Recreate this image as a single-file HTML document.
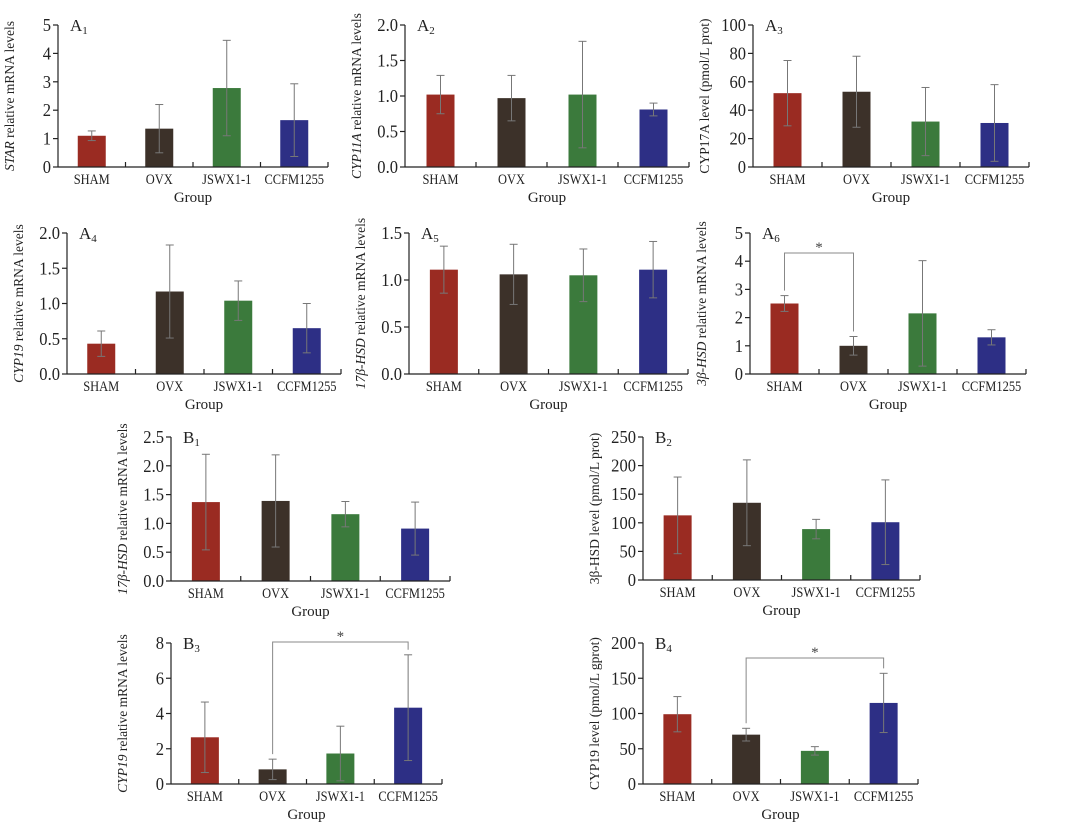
<!DOCTYPE html>
<html><head><meta charset="utf-8"><style>
html,body{margin:0;padding:0;background:#fff;}
svg{display:block;font-family:"Liberation Serif",serif;}
</style></head><body>
<svg id="fig" width="1080" height="828" viewBox="0 0 1080 828" xmlns="http://www.w3.org/2000/svg"></svg>
<script>
const categories = ["SHAM","OVX","JSWX1-1","CCFM1255"];
const colors = ["#9a2b22","#3c3129","#3b7a3c","#2d2f85"];
const a1Values = [1.1,1.35,2.78,1.65];   const a1Err = [0.17,0.85,1.68,1.28];
const a2Values = [1.02,0.97,1.02,0.81];  const a2Err = [0.27,0.32,0.75,0.09];
const a3Values = [52,53,32,31];          const a3Err = [23,25,24,27];
const a4Values = [0.43,1.17,1.04,0.65];  const a4Err = [0.18,0.66,0.28,0.35];
const a5Values = [1.11,1.06,1.05,1.11];  const a5Err = [0.25,0.32,0.28,0.30];
const a6Values = [2.5,1.0,2.15,1.3];     const a6Err = [0.28,0.33,1.87,0.27];
const b1Values = [1.37,1.39,1.16,0.91];  const b1Err = [0.83,0.8,0.22,0.46];
const b2Values = [113,135,89,101];       const b2Err = [67,75,17,74];
const b3Values = [2.65,0.83,1.73,4.33];  const b3Err = [2.0,0.58,1.55,3.0];
const b4Values = [99,70,47,115];         const b4Err = [25,9,6,42];
const a1Ticks=[0,1,2,3,4,5], a2Ticks=[0,0.5,1,1.5,2], a3Ticks=[0,20,40,60,80,100];
const a4Ticks=[0,0.5,1,1.5,2], a5Ticks=[0,0.5,1,1.5], a6Ticks=[0,1,2,3,4,5];
const b1Ticks=[0,0.5,1,1.5,2,2.5], b2Ticks=[0,50,100,150,200,250], b3Ticks=[0,2,4,6,8], b4Ticks=[0,50,100,150,200];

const NS="http://www.w3.org/2000/svg";
const svg=document.getElementById('fig');
function mk(tag,attrs,parent){const e=document.createElementNS(NS,tag);for(const k in attrs)e.setAttribute(k,attrs[k]);(parent||svg).appendChild(e);return e;}

const panels=[
 {id:"a1",lab:"A",sub:"1",L:58,R:328,T:25,B:167,vals:a1Values,err:a1Err,ticks:a1Ticks,dec:0,yl:[["STAR",1],[" relative mRNA levels",0]]},
 {id:"a2",lab:"A",sub:"2",L:405,R:689,T:25,B:167,vals:a2Values,err:a2Err,ticks:a2Ticks,dec:1,yl:[["CYP11A",1],[" relative mRNA levels",0]]},
 {id:"a3",lab:"A",sub:"3",L:753,R:1029,T:25,B:167,vals:a3Values,err:a3Err,ticks:a3Ticks,dec:0,yl:[["CYP17A level (pmol/L prot)",0]]},
 {id:"a4",lab:"A",sub:"4",L:67,R:341,T:233,B:374,vals:a4Values,err:a4Err,ticks:a4Ticks,dec:1,yl:[["CYP19",1],[" relative mRNA levels",0]]},
 {id:"a5",lab:"A",sub:"5",L:409,R:688,T:233,B:374,vals:a5Values,err:a5Err,ticks:a5Ticks,dec:1,yl:[["17β-HSD",1],[" relative mRNA levels",0]]},
 {id:"a6",lab:"A",sub:"6",L:750,R:1026,T:233,B:374,vals:a6Values,err:a6Err,ticks:a6Ticks,dec:0,yl:[["3β-HSD",1],[" relative mRNA levels",0]],sig:[0,1,253]},
 {id:"b1",lab:"B",sub:"1",L:171,R:450,T:437,B:581,vals:b1Values,err:b1Err,ticks:b1Ticks,dec:1,yl:[["17β-HSD",1],[" relative mRNA levels",0]]},
 {id:"b2",lab:"B",sub:"2",L:643,R:920,T:437,B:580,vals:b2Values,err:b2Err,ticks:b2Ticks,dec:0,yl:[["3β-HSD level (pmol/L prot)",0]]},
 {id:"b3",lab:"B",sub:"3",L:171,R:442,T:643,B:784,vals:b3Values,err:b3Err,ticks:b3Ticks,dec:0,yl:[["CYP19",1],[" relative mRNA levels",0]],sig:[1,3,642]},
 {id:"b4",lab:"B",sub:"4",L:643,R:918,T:643,B:784,vals:b4Values,err:b4Err,ticks:b4Ticks,dec:0,yl:[["CYP19 level (pmol/L gprot)",0]],sig:[1,3,658]}
];

panels.forEach(p=>{
 const g=mk('g',{});
 
 
 const max=p.ticks[p.ticks.length-1];
 const y=v=>p.B-(v/max)*(p.B-p.T);
 const band=(p.R-p.L)/4;
 const x=i=>p.L+band*(i+0.5);
 p.vals.forEach((v,i)=>{
  const r=mk('rect',{x:x(i)-14,y:y(v),width:28,height:p.B-y(v),fill:colors[i]},g);
  
  
  const e=mk('g',{stroke:'#777','stroke-width':1},g);
  
  
  const hi=y(v+p.err[i]), lo=y(Math.max(0,v-p.err[i]));
  mk('line',{x1:x(i),x2:x(i),y1:hi,y2:lo},e);
  mk('line',{x1:x(i)-4,x2:x(i)+4,y1:hi,y2:hi},e);
  mk('line',{x1:x(i)-4,x2:x(i)+4,y1:lo,y2:lo},e);
 });
 const ax=mk('g',{stroke:'#222','stroke-width':1.2,fill:'none'},g);
 
 
 mk('line',{x1:p.L,x2:p.L,y1:p.T,y2:p.B},ax);
 mk('line',{x1:p.L,x2:p.R,y1:p.B,y2:p.B},ax);
 for(let k=1;k<=4;k++) mk('line',{x1:p.L+band*k,x2:p.L+band*k,y1:p.B,y2:p.B-5},ax);
 p.ticks.forEach(t=>{
  mk('line',{x1:p.L-5,x2:p.L,y1:y(t),y2:y(t)},ax);
  const tt=mk('text',{x:0,y:0,'text-anchor':'end','font-size':18,fill:'#222',transform:`translate(${p.L-7},${y(t)+6}) scale(0.92,1)`},g);
  tt.textContent=t.toFixed(p.dec);
  
  
 });
 categories.forEach((c,i)=>{
  const t=mk('text',{x:0,y:0,'text-anchor':'middle','font-size':14.5,fill:'#222',transform:`translate(${x(i)},${p.B+17}) scale(0.86,1)`},g);
  t.textContent=c;
  
  
 });
 const xt=mk('text',{x:(p.L+p.R)/2,y:p.B+35,'text-anchor':'middle','font-size':15,fill:'#222'},g);
 xt.textContent='Group';
 
 
 const cy=(p.T+p.B)/2, cx=p.L-44;
 const yt=mk('text',{x:cx,y:cy,'text-anchor':'middle','font-size':13.5,fill:'#222',transform:`rotate(-90 ${cx} ${cy})`},g);
 
 
 p.yl.forEach(([s,it])=>{const ts=mk('tspan',it?{'font-style':'italic'}:{},yt);ts.textContent=s;});
 const pl=mk('text',{x:p.L+12,y:p.T+6,'font-size':17,fill:'#222'},g);
 
 
 const s1=mk('tspan',{},pl);s1.textContent=p.lab;
 const s2=mk('tspan',{'font-size':11,dy:3},pl);s2.textContent=p.sub;
 if(p.sig){
  const [a,b,by]=p.sig;
  const sg=mk('g',{stroke:'#888','stroke-width':1,fill:'none'},g);
  
  
  const ya=y(p.vals[a]+p.err[a])-5, yb=y(p.vals[b]+p.err[b])-5;
  mk('polyline',{points:`${x(a)},${ya} ${x(a)},${by} ${x(b)},${by} ${x(b)},${yb}`},sg);
  const st=mk('text',{x:(x(a)+x(b))/2,y:by-1,'text-anchor':'middle','font-size':15,fill:'#444'},g);
  st.textContent='*';
  
  
 }
});
</script>
</body></html>
